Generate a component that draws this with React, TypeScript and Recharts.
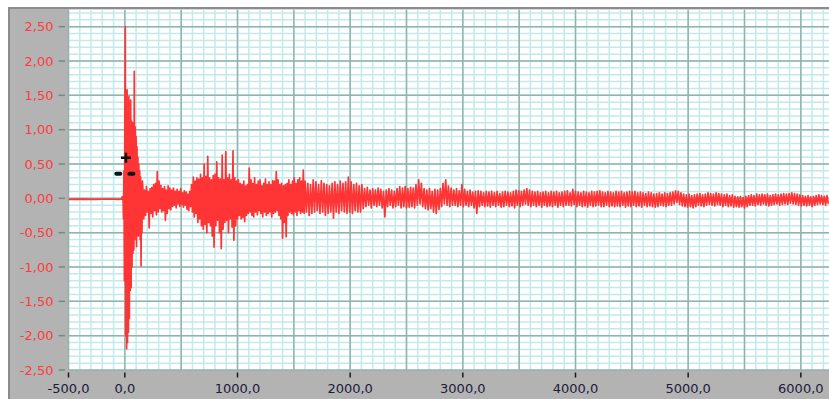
import { ComposedChart, Line, Scatter, XAxis, YAxis, CartesianGrid } from 'recharts';

// axis ranges and tick labels
const X_DOMAIN = [-500, 6250];
const Y_DOMAIN = [-2.5, 2.75];
const X_TICKS = [-500, 0, 1000, 2000, 3000, 4000, 5000, 6000];
const Y_TICKS = [2.5, 2.0, 1.5, 1.0, 0.5, 0.0, -0.5, -1.0, -1.5, -2.0, -2.5];

// quiet baseline before the trigger
const PRE_T = [-500, -380, -260, -140, -60, -28];
const PRE_V = [-0.015, -0.012, -0.015, -0.01, -0.015, -0.01];

// onset, sampled every 4
const ONSET_START = -24;
const ONSET_STEP = 4;
const ONSET_V = [
    0.02, -0.02, 0.03, -0.3, 0.4, -1.2, 1.2, 2.5, -2.0, 1.3,
    -2.19, 1.58, -2.1, 1.1, -1.95, 1.48, -1.75, 1.1, -1.34, 1.43,
    -1.3, 1.12, -1.0, 1.1, -0.8, 1.0, -0.75, 1.85, -0.6, 1.04,
    -0.55, 0.9, -0.7, 0.75, -0.5, 0.6, -0.55, 0.5, -0.45, 0.4,
    -0.6, 0.31, -0.98, 0.2, -0.5, 0.25,
];

// early coda, sampled every 8
const EARLY_START = 160;
const EARLY_STEP = 8;
const EARLY_V = [
    0.15, -0.3, 0.12, -0.25, 0.17, -0.2, 0.1, -0.43, 0.14, -0.22,
    0.16, -0.27, 0.2, -0.18, 0.22, -0.24, 0.39, -0.2, 0.25, -0.15,
    0.19, -0.2, 0.14, -0.18, 0.17, -0.32, 0.12, -0.22, 0.18, -0.15,
    0.15, -0.17, 0.12, -0.12, 0.15, -0.1, 0.1, -0.14, 0.13, -0.08,
    0.1, -0.12, 0.14, -0.09, 0.08, -0.13, 0.11, -0.1, 0.09, -0.16,
    0.06, -0.18, 0.1, -0.12, 0.2, -0.2, 0.31, -0.27, 0.25, -0.22,
    0.3, -0.35, 0.28, -0.3, 0.35, -0.4, 0.3, -0.45, 0.5, -0.38,
    0.32, -0.5, 0.61, -0.35, 0.3, -0.4, 0.27, -0.55, 0.33, -0.71,
    0.35, -0.4, 0.53, -0.32, 0.3, -0.5, 0.28, -0.73, 0.63, -0.45,
    0.27, -0.35, 0.68, -0.32, 0.3, -0.5, 0.35, -0.3, 0.27, -0.42,
    0.69, -0.61, 0.3, -0.4, 0.25, -0.3, 0.27, -0.25, 0.22, -0.3,
    0.2, -0.28, 0.25, -0.34, 0.18, -0.25, 0.2, -0.22, 0.44, -0.2,
    0.27, -0.25, 0.22, -0.27, 0.3, -0.2, 0.2, -0.24, 0.25, -0.18,
    0.27, -0.22, 0.18, -0.27, 0.22, -0.2, 0.28, -0.25, 0.2, -0.22,
    0.24, -0.2, 0.2, -0.27, 0.26, -0.22, 0.25, -0.2, 0.39, -0.18,
    0.27, -0.25, 0.2, -0.3, 0.22, -0.58, 0.18, -0.35, 0.2, -0.56,
    0.22, -0.25, 0.27, -0.2, 0.2, -0.22, 0.25, -0.24, 0.3, -0.2,
    0.22, -0.25, 0.27, -0.18, 0.3, -0.22, 0.25, -0.2, 0.41, -0.22,
];

// late coda, sampled every 12
const LATE_START = 1600;
const LATE_STEP = 12;
const LATE_V = [
    0.25, -0.2, 0.22, -0.25, 0.2, -0.22, 0.27, -0.2, 0.24, -0.18,
    0.2, -0.22, 0.26, -0.2, 0.22, -0.25, 0.2, -0.22, 0.18, -0.2,
    0.22, -0.29, 0.24, -0.2, 0.2, -0.22, 0.25, -0.18, 0.22, -0.2,
    0.24, -0.22, 0.31, -0.2, 0.24, -0.22, 0.2, -0.18, 0.22, -0.2,
    0.18, -0.2, 0.2, -0.15, 0.14, -0.12, 0.16, -0.1, 0.12, -0.14,
    0.14, -0.1, 0.12, -0.12, 0.15, -0.1, 0.13, -0.14, 0.1, -0.27,
    0.12, -0.12, 0.14, -0.1, 0.12, -0.14, 0.1, -0.12, 0.14, -0.1,
    0.17, -0.14, 0.15, -0.12, 0.17, -0.14, 0.14, -0.13, 0.16, -0.12,
    0.15, -0.14, 0.2, -0.1, 0.27, -0.08, 0.22, -0.12, 0.14, -0.15,
    0.12, -0.17, 0.14, -0.15, 0.1, -0.2, 0.13, -0.22, 0.12, -0.16,
    0.14, -0.12, 0.22, -0.08, 0.27, -0.1, 0.18, -0.12, 0.15, -0.1,
    0.12, -0.1, 0.14, -0.12, 0.11, -0.1, 0.2, -0.12, 0.13, -0.1,
    0.1, -0.12, 0.12, -0.1, 0.09, -0.14, 0.1, -0.22, 0.11, -0.12,
    0.1, -0.1, 0.08, -0.12, 0.1, -0.11, 0.09, -0.13, 0.1, -0.1,
    0.08, -0.12, 0.1, -0.1, 0.07, -0.13, 0.09, -0.12, 0.1, -0.1,
    0.09, -0.12, 0.08, -0.11, 0.1, -0.14, 0.12, -0.1, 0.11, -0.12,
    0.1, -0.1, 0.12, -0.08, 0.14, -0.1, 0.12, -0.12, 0.1, -0.1,
    0.09, -0.12, 0.1, -0.1, 0.08, -0.13, 0.09, -0.1, 0.1, -0.12,
    0.08, -0.11, 0.1, -0.12, 0.09, -0.1, 0.1, -0.13, 0.08, -0.1,
    0.09, -0.12, 0.1, -0.1, 0.11, -0.1, 0.08, -0.11, 0.13, -0.09,
    0.1, -0.12, 0.09, -0.1, 0.08, -0.12, 0.1, -0.11, 0.09, -0.13,
    0.08, -0.1, 0.1, -0.12, 0.09, -0.11, 0.1, -0.1, 0.11, -0.12,
    0.09, -0.12, 0.08, -0.1, 0.1, -0.12, 0.09, -0.11, 0.08, -0.12,
    0.1, -0.11, 0.09, -0.12, 0.1, -0.1, 0.08, -0.13, 0.09, -0.11,
    0.1, -0.12, 0.09, -0.1, 0.1, -0.12, 0.08, -0.11, 0.09, -0.13,
    0.08, -0.1, 0.07, -0.12, 0.09, -0.11, 0.08, -0.12, 0.06, -0.13,
    0.07, -0.12, 0.08, -0.1, 0.06, -0.11, 0.08, -0.12, 0.07, -0.1,
    0.08, -0.1, 0.09, -0.08, 0.11, -0.06, 0.1, -0.09, 0.08, -0.11,
    0.06, -0.12, 0.05, -0.13, 0.06, -0.12, 0.04, -0.14, 0.05, -0.12,
    0.06, -0.1, 0.07, -0.11, 0.05, -0.12, 0.06, -0.1, 0.08, -0.09,
    0.07, -0.1, 0.06, -0.11, 0.08, -0.09, 0.07, -0.1, 0.06, -0.12,
    0.05, -0.1, 0.06, -0.12, 0.04, -0.11, 0.05, -0.13, 0.03, -0.12,
    0.02, -0.13, 0.03, -0.12, 0.01, -0.14, 0.03, -0.12, 0.04, -0.1,
    0.05, -0.1, 0.04, -0.11, 0.06, -0.09, 0.05, -0.1, 0.06, -0.08,
    0.05, -0.1, 0.06, -0.11, 0.04, -0.1, 0.05, -0.09, 0.06, -0.08,
    0.05, -0.1, 0.06, -0.09, 0.07, -0.08, 0.06, -0.09, 0.07, -0.07,
    0.08, -0.08, 0.07, -0.09, 0.06, -0.1, 0.05, -0.11, 0.04, -0.1,
    0.03, -0.11, 0.04, -0.1, 0.02, -0.12, 0.03, -0.1, 0.04, -0.09,
    0.05, -0.08, 0.04, -0.09, 0.03, -0.1, 0.04, -0.08,
];

// cursor markers
const PLUS_MARK = [{ t: 10, v: 0.59 }];
const DASH_MARKS = [{ t: -58, v: 0.357 }, { t: 58, v: 0.357 }];

const data = [
    ...PRE_T.map((t, i) => ({ t, v: PRE_V[i] })),
    ...ONSET_V.map((v, i) => ({ t: ONSET_START + i * ONSET_STEP, v })),
    ...EARLY_V.map((v, i) => ({ t: EARLY_START + i * EARLY_STEP, v })),
    ...LATE_V.map((v, i) => ({ t: LATE_START + i * LATE_STEP, v })),
];

const FONT = '"DejaVu Sans", Verdana, sans-serif';

function steps(from: number, to: number, step: number) {
    const out: number[] = [];
    for (let k = 0; from + k * step <= to + 1e-9; k++) out.push(from + k * step);
    return out;
}

// grid line positions, mapped onto the plot box
const vertical = (values: number[]) => ({ offset }: any) =>
    values.map((v) => offset.left + ((v - X_DOMAIN[0]) / (X_DOMAIN[1] - X_DOMAIN[0])) * offset.width);
const horizontal = (values: number[]) => ({ offset }: any) =>
    values.map((v) => offset.top + ((Y_DOMAIN[1] - v) / (Y_DOMAIN[1] - Y_DOMAIN[0])) * offset.height);

const YTick = ({ x, y, payload }: any) => (
    <g>
        <line x1={x - 10} x2={x - 3.5} y1={y} y2={y} stroke="#6f8d88" strokeWidth={1.5} />
        <text x={x - 15} y={y} dy="0.36em" textAnchor="end" fill="#ff3b3b" fontSize={13} fontFamily={FONT}>
            {payload.value.toFixed(2).replace('.', ',')}
        </text>
    </g>
);

const XTick = ({ x, y, payload }: any) => (
    <g>
        <line x1={x} x2={x} y1={y + 2.5} y2={y + 7.5} stroke="#1a1a1a" strokeWidth={1.5} />
        <text x={x} y={y + 18} dy="0.36em" textAnchor="middle" fill="#1d1a3d" fontSize={13} fontFamily={FONT}>
            {payload.value.toFixed(1).replace('.', ',')}
        </text>
    </g>
);

const PlusShape = ({ cx, cy }: any) => (
    <g stroke="#111" strokeWidth={2.5}>
        <line x1={cx - 5} x2={cx + 5} y1={cy} y2={cy} />
        <line x1={cx} x2={cx} y1={cy - 5} y2={cy + 5} />
    </g>
);

const DashShape = ({ cx, cy }: any) => (
    <rect x={cx - 4} y={cy - 2} width={8} height={4} rx={2} fill="#111" />
);

export default function App() {
    return (
        <div style={{ position: 'absolute', left: 0, top: 0, width: 829, height: 399, background: '#fff', overflow: 'hidden' }}>
            <div
                style={{
                    position: 'absolute',
                    left: 8,
                    top: 7,
                    width: 821,
                    height: 392,
                    background: '#b3b3b3',
                    borderTop: '2px solid #8b8b8b',
                    borderLeft: '2px solid #8b8b8b',
                    boxSizing: 'border-box',
                }}
            />
            <div style={{ position: 'absolute', left: 0, top: 0 }}>
                <ComposedChart width={829} height={399} data={data} margin={{ top: 9.5, right: 0, bottom: 0, left: 8.5 }}>
                    <CartesianGrid
                        fill="#fff"
                        stroke="#c3eaeb"
                        strokeWidth={1.5}
                        verticalCoordinatesGenerator={vertical(steps(-400, 6200, 100))}
                        horizontalCoordinatesGenerator={horizontal(steps(-2.4, 2.7, 0.1))}
                    />
                    <CartesianGrid
                        stroke="#8fb3ad"
                        strokeWidth={1.5}
                        verticalCoordinatesGenerator={vertical(steps(-500, 6000, 500))}
                        horizontalCoordinatesGenerator={horizontal(steps(-2.5, 2.5, 0.5))}
                    />
                    <XAxis
                        type="number"
                        dataKey="t"
                        domain={X_DOMAIN}
                        ticks={X_TICKS}
                        interval={0}
                        allowDataOverflow
                        axisLine={false}
                        tickLine={false}
                        tickSize={0}
                        tickMargin={0}
                        height={29}
                        tick={<XTick />}
                    />
                    <YAxis
                        type="number"
                        domain={Y_DOMAIN}
                        ticks={Y_TICKS}
                        interval={0}
                        allowDataOverflow
                        axisLine={false}
                        tickLine={false}
                        tickSize={0}
                        tickMargin={0}
                        width={60}
                        tick={<YTick />}
                    />
                    <Line
                        type="linear"
                        dataKey="v"
                        stroke="#ff3535"
                        strokeWidth={1.7}
                        strokeLinejoin="round"
                        dot={false}
                        isAnimationActive={false}
                    />
                    <Scatter data={DASH_MARKS} dataKey="v" shape={<DashShape />} isAnimationActive={false} />
                    <Scatter data={PLUS_MARK} dataKey="v" shape={<PlusShape />} isAnimationActive={false} />
                </ComposedChart>
            </div>
        </div>
    );
}
